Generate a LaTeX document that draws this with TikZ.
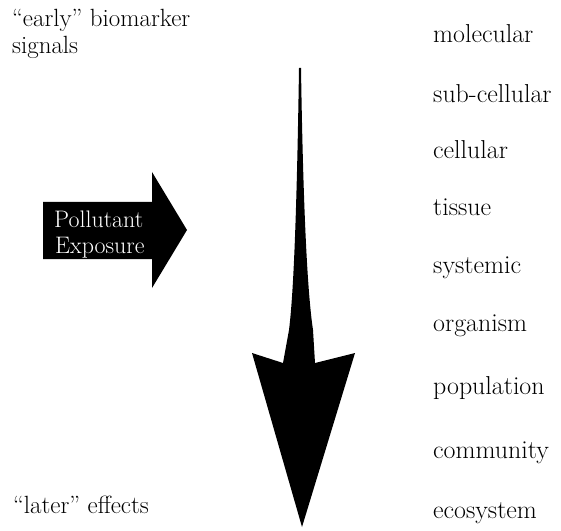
\documentclass[tikz,border=0pt]{standalone}
\begin{document}
\begin{tikzpicture}[x=1bp,y=-1bp]
\tikzset{
  side/.style={anchor=base west,inner sep=0pt,font=\fontsize{25}{28}\selectfont},
  level/.style={anchor=base west,inner sep=0pt,font=\fontsize{26}{30}\selectfont},
  blackarrow/.style={fill=black,draw=none}
}
\useasboundingbox (0,0) rectangle (561,531);
\node[side] (early) at (12,27) {``early'' biomarker};
\node[side] (signals) at (12,54) {signals};
\node[side] (later) at (13,513) {``later'' effects};
% exposure arrow
\fill[blackarrow] (43,202) -- (152,202) -- (152,172) -- (187,230) -- (152,288) -- (152,259) -- (43,259) -- cycle;
\node[side,text=white,font=\fontsize{24}{28}\selectfont] (pollutant) at (54,227) {Pollutant};
\node[side,text=white,font=\fontsize{24}{28}\selectfont] (exposure) at (55,253) {Exposure};
% time arrow
\fill[blackarrow] (299,68) .. controls (297,200) and (294,290) .. (289,330) -- (283,363) -- (252,353) -- (302,527) -- (355,353) -- (315,363) -- (313,330) .. controls (307,290) and (303,200) .. (301,68) -- cycle;
% levels
\node[level] (molecular) at (433,43) {molecular};
\node[level] (subcellular) at (433,103) {sub-cellular};
\node[level] (cellular) at (433,159) {cellular};
\node[level] (tissue) at (433,216) {tissue};
\node[level] (systemic) at (433,273) {systemic};
\node[level] (organism) at (433,331) {organism};
\node[level] (population) at (433,394) {population};
\node[level] (community) at (433,458) {community};
\node[level] (ecosystem) at (433,518) {ecosystem};
\end{tikzpicture}
\end{document}
